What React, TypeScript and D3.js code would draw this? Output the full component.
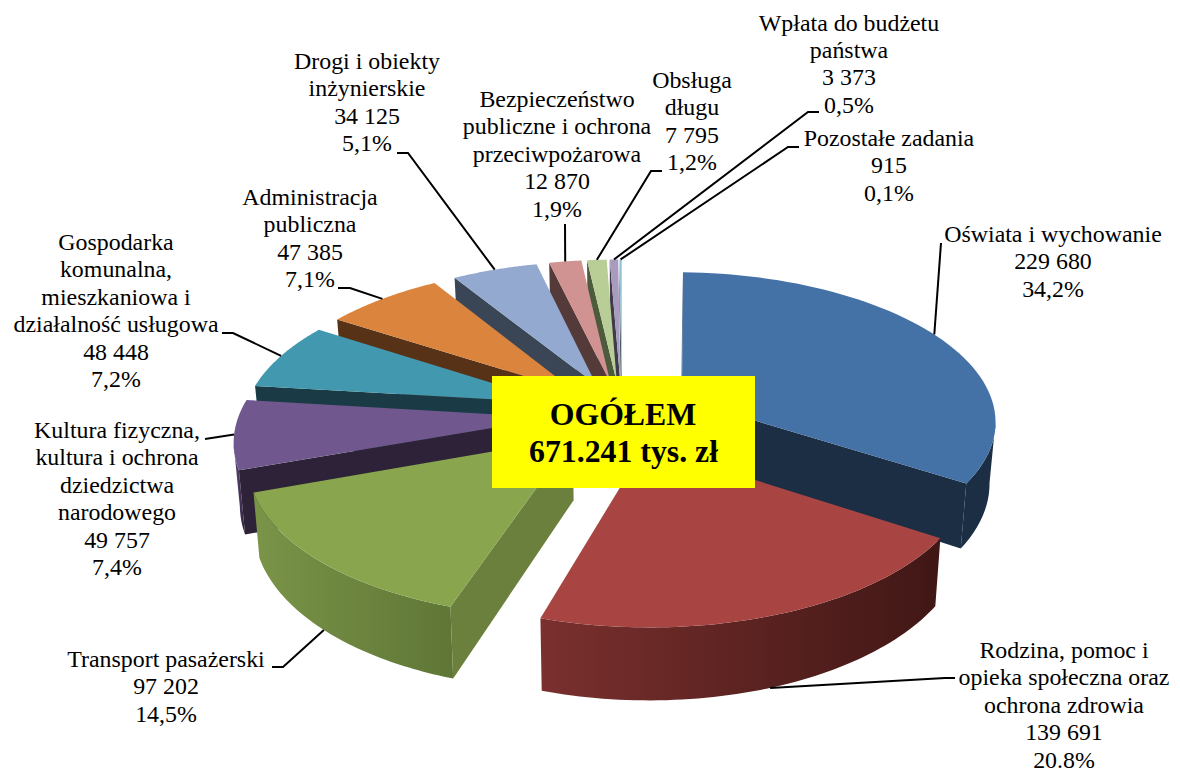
import * as d3 from "d3";

const categories = [
  "Oświata i wychowanie",
  "Rodzina, pomoc i opieka społeczna oraz ochrona zdrowia",
  "Transport pasażerski",
  "Kultura fizyczna, kultura i ochrona dziedzictwa narodowego",
  "Gospodarka komunalna, mieszkaniowa i działalność usługowa",
  "Administracja publiczna",
  "Drogi i obiekty inżynierskie",
  "Bezpieczeństwo publiczne i ochrona przeciwpożarowa",
  "Obsługa długu",
  "Wpłata do budżetu państwa",
  "Pozostałe zadania",
];
const values = [229680, 139691, 97202, 49757, 48448, 47385, 34125, 12870, 7795, 3373, 915];
const valueLabels = ["229 680", "139 691", "97 202", "49 757", "48 448", "47 385", "34 125", "12 870", "7 795", "3 373", "915"];
const shareLabels = ["34,2%", "20.8%", "14,5%", "7,4%", "7,2%", "7,1%", "5,1%", "1,9%", "1,2%", "0,5%", "0,1%"];

const nameLines = [
  ["Oświata i wychowanie"],
  ["Rodzina, pomoc i", "opieka społeczna oraz", "ochrona zdrowia"],
  ["Transport pasażerski"],
  ["Kultura fizyczna,", "kultura i ochrona", "dziedzictwa", "narodowego"],
  ["Gospodarka", "komunalna,", "mieszkaniowa i", "działalność usługowa"],
  ["Administracja", "publiczna"],
  ["Drogi i obiekty", "inżynierskie"],
  ["Bezpieczeństwo", "publiczne i ochrona", "przeciwpożarowa"],
  ["Obsługa", "długu"],
  ["Wpłata do budżetu", "państwa"],
  ["Pozostałe zadania"],
];

const topColors = ["#4471a6", "#a84542", "#89a54e", "#70588f", "#4198af", "#db843d", "#93a9cf", "#d19392", "#b9cd96", "#a99bbd", "#91c3d5"];
const wallColors = ["#1b2e44", "#4a1c19", "#6a803c", "#2e2238", "#1a3b46", "#583216", "#3a4556", "#553a3a", "#4d5a3c", "#403a4c", "#3a5058"];
const rimFrom = ["#1b2e44", "#7a302e", "#7a9448", "#5f4a7c", "#1a3b46", "#583216", "#3a4556", "#553a3a", "#4d5a3c", "#403a4c", "#3a5058"];
const rimTo = ["#1b2e44", "#401715", "#5f7636", "#2e2238", "#1a3b46", "#583216", "#3a4556", "#553a3a", "#4d5a3c", "#403a4c", "#3a5058"];

// label placement: centre x, first baseline, then the leader's elbow points
const labelX = [1053, 1064, 166, 117, 116, 310, 367, 557, 692, 849, 889];
const labelY = [242, 658, 667, 438, 250, 205, 69, 107, 88, 30.5, 146];
const lineGaps = 27.4;
const leaderEnds: [number, number][][] = [
  [[941, 243]],
  [[945, 678], [955, 678]],
  [[283, 667], [272, 667]],
  [[205, 439]],
  [[233, 333], [222, 333]],
  [[350, 288], [338, 288]],
  [[408, 153], [397, 153]],
  [[565, 224]],
  [[651, 171], [662, 171]],
  [[808, 112], [819, 112]],
  [[788, 147], [799, 147]],
];

const width = 1180;
const height = 769;

// perspective projection of the pie plane
const cx = 622;
const cy = 414;
const scaleX = 314;
const scaleY = 147.7;
const persp = 0.136;
const explode = 0.22;
const depth = 61;
const shrink = 0.984;
// the original's edges sit a hair off the exact angles
const trimStart = [0.03, 0, 0, 0, 0, 0, 0, 0, 0, 0, 0];
const trimEnd = [0, 0.02, 0, 0, 0, 0, 0, 0, 0, 0, 0];

type Pt = [number, number];

function project(X: number, Y: number, bottom: boolean): Pt {
  const s = 1 / (1 - persp * Y);
  const x = scaleX * X * s;
  const y = cy + scaleY * Y * s;
  return bottom ? [cx + x * shrink, y + depth * s] : [cx + x, y];
}

export default function App() {
  const arcs = d3.pie<number>().sort(null).startAngle(0).endAngle(2 * Math.PI)(values);
  const line = d3.line();

  const slices = arcs.map((a, i) => {
    const mid = (a.startAngle + a.endAngle) / 2;
    const ox = explode * Math.sin(mid);
    const oy = -explode * Math.cos(mid);
    const at = (t: number, r: number, bottom: boolean) =>
      project(ox + r * Math.sin(t), oy - r * Math.cos(t), bottom);

    const from = a.startAngle + trimStart[i];
    const to = a.endAngle - trimEnd[i];
    const angles = d3.range(0, 61).map((k) => from + ((to - from) * k) / 60);
    const topRim = angles.map((t) => at(t, 1, false));
    const botRim = angles.map((t) => at(t, 1, true));
    const apexT = at(0, 0, false);
    const apexB = at(0, 0, true);

    const topPath = line([apexT, ...topRim]) + "Z";

    // outer wall: only the part of the rim moving leftwards faces us
    const idx = angles.map((_, k) => k).filter((k) =>
      k < 60 ? topRim[k + 1][0] < topRim[k][0] : topRim[k][0] < topRim[k - 1][0]
    );
    const rimPath = idx.length > 1
      ? line([...idx.map((k) => topRim[k]), ...idx.map((k) => botRim[k]).reverse()]) + "Z"
      : null;

    // d3.polygonArea is negative for the walls that face the viewer here
    const endQuad: Pt[] = [apexT, topRim[60], botRim[60], apexB];
    const startQuad: Pt[] = [apexB, botRim[0], topRim[0], apexT];
    const walls = [endQuad, startQuad]
      .filter((q) => d3.polygonArea(q) < 0)
      .map((q) => line(q) + "Z");

    const front = -Math.cos(mid) > 0.5;
    const anchor = at(mid, 1, front);

    return { i, mid, topPath, rimPath, walls, anchor };
  });

  // back to front
  const drawOrder = [...slices].sort((p, q) => -Math.cos(p.mid) + Math.cos(q.mid));

  return (
    <svg
      width={width}
      height={height}
      viewBox={`0 0 ${width} ${height}`}
      style={{ position: "absolute", left: 0, top: 0, background: "#fff" }}
      fontFamily="'Liberation Serif', serif"
    >
      <defs>
        {categories.map((c, i) => (
          <linearGradient key={c} id={`rim${i}`} x1="0" x2="1" y1="0" y2="0">
            <stop offset="0" stopColor={rimFrom[i]} />
            <stop offset="1" stopColor={rimTo[i]} />
          </linearGradient>
        ))}
      </defs>

      {drawOrder.map((s) => (
        <g key={s.i}>
          {s.rimPath && <path d={s.rimPath} fill={`url(#rim${s.i})`} />}
          {s.walls.map((d, k) => (
            <path key={k} d={d} fill={wallColors[s.i]} />
          ))}
          <path d={s.topPath} fill={topColors[s.i]} />
        </g>
      ))}

      {slices.map((s) => (
        <path
          key={s.i}
          d={line([s.anchor, ...leaderEnds[s.i]]) ?? ""}
          fill="none"
          stroke="#000"
          strokeWidth={2}
        />
      ))}

      {categories.map((c, i) => {
        const lines = [...nameLines[i], valueLabels[i], shareLabels[i]];
        return (
          <text key={c} textAnchor="middle" fontSize={23.9} fill="#000">
            {lines.map((t, k) => (
              <tspan key={k} x={labelX[i]} y={labelY[i] + k * lineGaps}>
                {t}
              </tspan>
            ))}
          </text>
        );
      })}

      <rect x={492} y={376} width={263} height={112} fill="#ffff00" />
      <text textAnchor="middle" fontSize={31.8} fontWeight="bold" fill="#000">
        <tspan x={623} y={425}>OGÓŁEM</tspan>
        <tspan x={623.5} y={461.5}>671.241 tys. zł</tspan>
      </text>
    </svg>
  );
}
